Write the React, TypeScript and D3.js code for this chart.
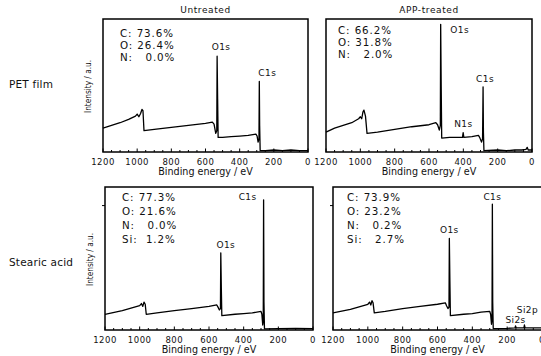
import React from "react";
import * as d3 from "d3";

// ---------- data ----------
const rowLabels = ["PET film", "Stearic acid"];
const colLabels = ["Untreated", "APP-treated"];
const xTicks = [1200, 1000, 800, 600, 400, 200, 0];
const xMinorTicks = d3.range(0, 1201, 50);

// PET film, untreated  (binding energy eV, intensity %)
const petUntE = [1200, 1150, 1100, 1050, 1010, 1000, 990, 980, 972, 966, 960, 900, 800, 700, 600, 560, 550, 540, 534, 532, 529, 526, 500, 450, 400, 350, 305, 298, 292, 287, 285, 283, 280, 250, 200, 150, 100, 50, 0];
const petUntI = [18, 20, 22, 24.5, 27, 28.5, 26.5, 29, 32, 31, 16, 17, 18.5, 20, 21.5, 22.5, 21, 14, 16, 72, 40, 11, 11, 11.5, 12, 12.5, 13.5, 12, 7.5, 10, 53, 20, 1, 1, 1.5, 1, 1.5, 1, 1];
const petUntComp = ["C: 73.6%", "O: 26.4%", "N:   0.0%"];

// PET film, APP-treated
const petAppE = [1200, 1150, 1100, 1050, 1010, 1000, 992, 985, 979, 970, 961, 900, 800, 700, 600, 560, 550, 540, 534, 532, 529, 526, 480, 420, 405, 401, 397, 350, 312, 305, 294, 288, 285, 283, 280, 200, 150, 100, 60, 35, 28, 22, 0];
const petAppI = [15, 18, 20, 22, 25, 26.5, 25, 30, 31.5, 27, 14, 15, 17, 19, 20.5, 22, 20.5, 16.5, 20, 96, 50, 10.5, 11, 11, 11, 14.5, 11, 11.5, 12.5, 11, 7.5, 10, 49, 15, 1, 1.5, 1, 1.5, 1.5, 2, 3.5, 1.5, 1.5];
const petAppComp = ["C: 66.2%", "O: 31.8%", "N:   2.0%"];

// Stearic acid, untreated
const saUntE = [1200, 1100, 1000, 990, 982, 975, 968, 962, 900, 800, 700, 600, 555, 548, 540, 534, 532, 529, 526, 450, 400, 350, 300, 295, 290, 287, 285, 283, 280, 200, 100, 0];
const saUntI = [11, 13.5, 17, 18.5, 16.5, 19.5, 18, 11, 12, 13.5, 15, 16.5, 17.5, 16, 14, 15, 54, 30, 10, 11, 11.5, 12, 13, 11, 3.5, 6, 91, 20, 0.8, 1, 1.2, 1];
const saUntComp = ["C: 77.3%", "O: 21.6%", "N:   0.0%", "Si:  1.2%"];

// Stearic acid, APP-treated
const saAppE = [1200, 1100, 1000, 990, 983, 976, 970, 963, 900, 800, 700, 600, 555, 548, 540, 534, 532, 529, 526, 450, 400, 350, 300, 295, 290, 287, 285, 283, 280, 200, 155, 152, 148, 104, 101, 97, 50, 0];
const saAppI = [12, 14.5, 18, 19.5, 17.5, 20.5, 19, 12, 13, 15, 16.5, 18, 19, 17, 15, 16, 64, 35, 10, 11, 11.5, 12.5, 13, 11, 4, 7, 88, 20, 1, 1.2, 1.5, 2.8, 1.5, 1.5, 3.5, 1.5, 1.5, 1.5];
const saAppComp = ["C: 73.9%", "O: 23.2%", "N:   0.2%", "Si:   2.7%"];

// peak labels: name and energy of the peak they mark
const petUntPeaks = ["O1s", "C1s"];
const petUntPeakE = [532, 285];
const petAppPeaks = ["O1s", "N1s", "C1s"];
const petAppPeakE = [532, 400, 285];
const saUntPeaks = ["C1s", "O1s"];
const saUntPeakE = [285, 532];
const saAppPeaks = ["C1s", "O1s", "Si2p", "Si2s"];
const saAppPeakE = [285, 532, 101, 152];

// ---------- layout ----------
type Panel = {
  x0: number; x1: number; y0: number; y1: number;
  E: number[]; I: number[]; comp: string[];
  peaks: string[]; peakE: number[];
  labelOff: [number, number][];
  compX: number; compY: number; compDy: number;
  yTick: boolean; yLabel: boolean;
};

const panels: Panel[] = [
  { x0: 103, x1: 308, y0: 19, y1: 152, E: petUntE, I: petUntI, comp: petUntComp,
    peaks: petUntPeaks, peakE: petUntPeakE, labelOff: [[4, -6], [8, -6]],
    compX: 120, compY: 37, compDy: 12, yTick: false, yLabel: true },
  { x0: 326, x1: 532, y0: 19, y1: 152, E: petAppE, I: petAppI, comp: petAppComp,
    peaks: petAppPeaks, peakE: petAppPeakE, labelOff: [[19, 9], [0, -6], [2, -5]],
    compX: 338, compY: 34, compDy: 12, yTick: false, yLabel: false },
  { x0: 105, x1: 313, y0: 187, y1: 330, E: saUntE, I: saUntI, comp: saUntComp,
    peaks: saUntPeaks, peakE: saUntPeakE, labelOff: [[-16, 0], [5, -5]],
    compX: 122, compY: 201, compDy: 14, yTick: true, yLabel: true },
  { x0: 333, x1: 542, y0: 187, y1: 330, E: saAppE, I: saAppI, comp: saAppComp,
    peaks: saAppPeaks, peakE: saAppPeakE, labelOff: [[0, -4], [0, -5], [3, -12], [0, -3]],
    compX: 347, compY: 201, compDy: 14, yTick: true, yLabel: false },
];

const FONT = "'DejaVu Sans', Verdana, sans-serif";

function PanelView({ p }: { p: Panel }) {
  const x = d3.scaleLinear().domain([1200, 0]).range([p.x0, p.x1]);
  const y = d3.scaleLinear().domain([0, 100]).range([p.y1, p.y0]);
  const pts = p.E.map((e, i) => [e, p.I[i]] as [number, number]);
  const line = d3.line<[number, number]>().x((d) => x(d[0])).y((d) => y(d[1]));
  const peakI = (e: number) => {
    let best = 0;
    p.E.forEach((v, i) => { if (Math.abs(v - e) <= 2) best = Math.max(best, p.I[i]); });
    return best;
  };
  const cx = (p.x0 + p.x1) / 2;
  return (
    <g>
      <path d={line(pts) || ""} fill="none" stroke="#000" strokeWidth={1.3} strokeLinejoin="round" />
      {xMinorTicks.map((t) => (
        <line key={"m" + t} x1={x(t)} x2={x(t)} y1={p.y1} y2={p.y1 - (t % 200 === 0 ? 3.5 : 2)} stroke="#000" strokeWidth={1} />
      ))}
      <rect x={p.x0} y={p.y0} width={p.x1 - p.x0} height={p.y1 - p.y0} fill="none" stroke="#000" strokeWidth={1.5} />
      {p.yTick && <line x1={p.x0 - 3} x2={p.x0} y1={y(87)} y2={y(87)} stroke="#000" strokeWidth={1} />}
      {xTicks.map((t) => (
        <text key={t} x={x(t)} y={p.y1 + 13} textAnchor="middle" fontSize={8.5} letterSpacing={0.5} fontFamily={FONT} fill="#111">{t}</text>
      ))}
      <text x={cx} y={p.y1 + 23} textAnchor="middle" fontSize={9.6} fontFamily={FONT} fill="#111">Binding energy / eV</text>
      {p.yLabel && (
        <text transform={`translate(${p.x0 - 12},${(p.y0 + p.y1) / 2 + 1}) rotate(-90)`} textAnchor="middle" fontSize={8.5} fontFamily="'Liberation Sans Narrow', 'DejaVu Sans Condensed', sans-serif" fill="#111" textLength={53} lengthAdjust="spacingAndGlyphs">Intensity / a.u.</text>
      )}
      {p.comp.map((c, i) => (
        <text key={c} x={p.compX} y={p.compY + i * p.compDy} fontSize={10.3} letterSpacing={0.9} fontFamily={FONT} fill="#111" xmlSpace="preserve" style={{ whiteSpace: "pre" }}>{c}</text>
      ))}
      {p.peaks.map((name, i) => {
        const e = p.peakE[i];
        const [dx, dy] = p.labelOff[i];
        return (
          <text key={name} x={x(e) + dx} y={y(peakI(e)) + dy} textAnchor="middle" fontSize={9} letterSpacing={0.4} fontFamily={FONT} fill="#111">{name}</text>
        );
      })}
    </g>
  );
}

export default function App() {
  return (
    <svg width={541} height={356} style={{ position: "absolute", left: 0, top: 0, background: "#fff" }}>
      <rect x={0} y={0} width={541} height={356} fill="#fff" />
      {colLabels.map((c, i) => (
        <text key={c} x={(panels[i].x0 + panels[i].x1) / 2} y={13} textAnchor="middle" fontSize={9} letterSpacing={0.6} fontFamily={FONT} fill="#111">{c}</text>
      ))}
      {rowLabels.map((r, i) => (
        <text key={r} x={9} y={i === 0 ? 88 : 266} fontSize={10.5} letterSpacing={0.2} fontFamily={FONT} fill="#111">{r}</text>
      ))}
      {panels.map((p, i) => <PanelView key={i} p={p} />)}
    </svg>
  );
}
